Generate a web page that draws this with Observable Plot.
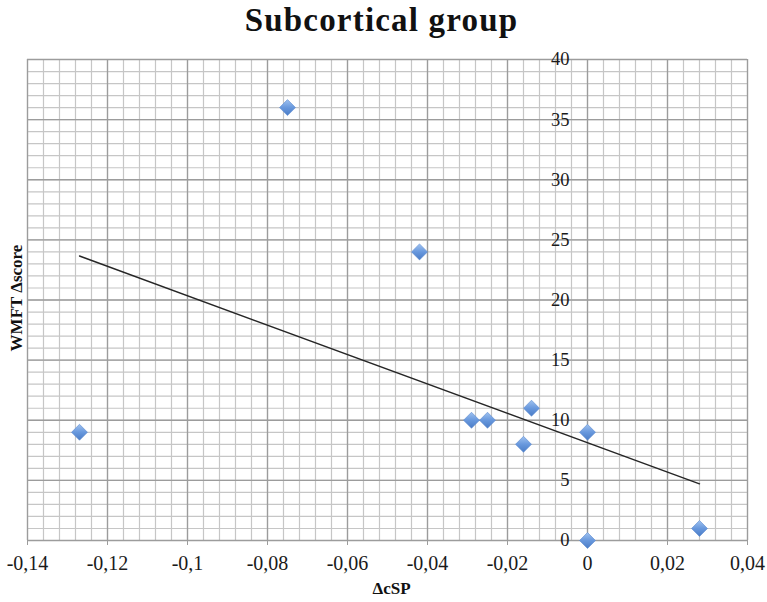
<!DOCTYPE html>
<html>
<head>
<meta charset="utf-8">
<script src="https://cdn.jsdelivr.net/npm/d3@7"></script>
<script src="https://cdn.jsdelivr.net/npm/@observablehq/plot@0.6"></script>
<style>
  html, body { margin: 0; padding: 0; background: #fff; }
  #chart svg { display: block; }
</style>
</head>
<body>
<div id="chart"></div>
<script>
// Data
const deltaCSP   = [-0.127, -0.075, -0.042, -0.029, -0.025, -0.014, -0.016, 0, 0, 0.028];
const wmftDelta  = [9, 36, 24, 10, 10, 11, 8, 9, 0, 1];
const xTicks = [-0.14, -0.12, -0.1, -0.08, -0.06, -0.04, -0.02, 0, 0.02, 0.04];
const yTicks = [0, 5, 10, 15, 20, 25, 30, 35, 40];
const title = "Subcortical group";
const xLabel = "ΔcSP";
const yLabel = "WMFT Δscore";

const points = deltaCSP.map((x, i) => ({x, y: wmftDelta[i]}));
const xMinor = d3.range(0, 46).map(i => -0.14 + i * 0.004);
const yMinor = d3.range(0, 41);
const fmt = d => String(+d.toFixed(3)).replace(".", ",");

const serif = "'Liberation Serif', 'Times New Roman', serif";

const chart = Plot.plot({
  width: 767,
  height: 602,
  marginLeft: 27,
  marginRight: 20,
  marginTop: 59,
  marginBottom: 62,
  style: {fontFamily: serif, background: "#fff", color: "#1a1a1a"},
  x: {domain: [-0.14, 0.04], axis: null},
  y: {domain: [0, 40], axis: null},
  marks: [
    Plot.gridX(xMinor, {stroke: "#c6c6c6", strokeOpacity: 1, strokeWidth: 1.2}),
    Plot.gridY(yMinor, {stroke: "#c6c6c6", strokeOpacity: 1, strokeWidth: 1.2}),
    Plot.gridX(xTicks, {stroke: "#9c9c9c", strokeOpacity: 1, strokeWidth: 1.3}),
    Plot.gridY(yTicks, {stroke: "#9c9c9c", strokeOpacity: 1, strokeWidth: 1.3}),
    Plot.axisX({ticks: xTicks, tickSize: 5, tickPadding: 10, tickFormat: fmt, fontSize: 20,
                label: null, stroke: "#9c9c9c", fill: "#1a1a1a"}),
    Plot.text(yTicks, {x: () => 0, y: d => d, text: d => String(d), textAnchor: "end",
                       dx: -18, fontSize: 18.5, fill: "#1a1a1a"}),
    Plot.linearRegressionY(points, {x: "x", y: "y", ci: 0, stroke: "#262626", strokeWidth: 1.4}),
    Plot.dot(points, {x: "x", y: "y", symbol: "diamond2", r: 7.2, fill: "url(#diamondGrad)",
                      stroke: "#5a8ad0", strokeWidth: 0.6}),
    Plot.text([title], {frameAnchor: "top", text: d => d, dy: -39, dx: -6, fontSize: 33,
                        fontWeight: "bold", fill: "#111", lineAnchor: "middle", textAnchor: "middle"}),
    Plot.text([xLabel], {frameAnchor: "bottom", text: d => d, dy: 48, dx: 4, fontSize: 17,
                         fontWeight: "bold", fill: "#111", lineAnchor: "middle", textAnchor: "middle"}),
    Plot.text([yLabel], {frameAnchor: "left", text: d => d, dx: -11, dy: -2, rotate: -90,
                         fontSize: 17, fontWeight: "bold", fill: "#111",
                         textAnchor: "middle", lineAnchor: "middle"})
  ]
});

const svg = d3.select(chart);
const defs = svg.insert("defs", ":first-child");
const g = defs.append("linearGradient").attr("id", "diamondGrad")
  .attr("x1", "0").attr("y1", "0").attr("x2", "0").attr("y2", "1");
g.append("stop").attr("offset", "0%").attr("stop-color", "#9fc2f0");
g.append("stop").attr("offset", "50%").attr("stop-color", "#6898dd");
g.append("stop").attr("offset", "100%").attr("stop-color", "#4a7cc6");
svg.selectAll("text").filter(function() { return this.textContent === title; })
  .style("letter-spacing", "1.2px");

document.getElementById("chart").appendChild(chart);
</script>
</body>
</html>
